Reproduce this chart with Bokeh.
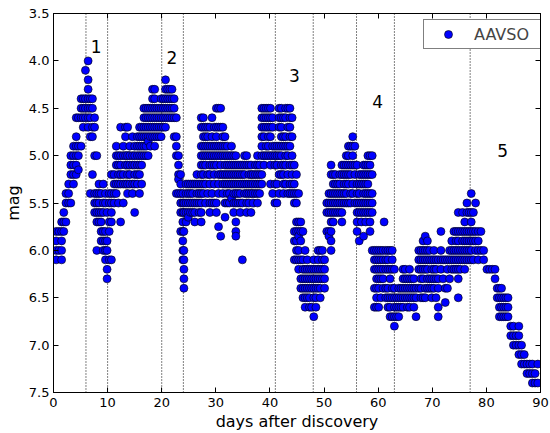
from bokeh.plotting import figure
from bokeh.models import (Range1d, LinearAxis, FixedTicker, PrintfTickFormatter, Span,
                          Legend, LegendItem, ColumnDataSource, CustomJSTickFormatter)
from bokeh.core.properties import value
from bokeh.embed import file_html
from bokeh.resources import INLINE

# ---------------- data ----------------
# Each segment: observation days and, per day, the magnitudes reported
seg1_days = [0.5, 1.0, 1.5, 1.9, 2.3, 2.8, 3.2, 3.7, 4.2, 4.6, 5.1, 5.5, 5.9, 6.4, 6.8,
             7.2, 7.6, 8.0, 8.4, 8.8, 9.2, 9.6, 9.9, 10.3, 10.7]
seg1_mags = [[5.8, 5.9, 6.0, 6.1], [5.8, 6.0], [5.7, 5.8, 5.9, 6.0, 6.1], [5.6, 5.7, 5.8],
             [5.4, 5.5, 5.7], [5.3, 5.4, 5.5], [5.0, 5.1, 5.2, 5.5], [4.9, 5.0, 5.1, 5.2, 5.3],
             [4.6, 4.8, 4.9, 5.0, 5.1, 5.2], [4.6, 4.9, 5.0, 5.15], [4.4, 4.5, 4.6, 4.9],
             [4.4, 4.5, 4.6, 4.7], [4.1, 4.4, 4.5, 4.6], [4.0, 4.2, 4.3, 4.4, 4.5, 4.6, 4.7],
             [4.4, 4.5, 4.6, 4.8, 5.4], [4.4, 4.5, 4.7, 4.8, 5.2], [4.6, 4.7, 5.0, 5.4, 5.5, 5.6],
             [5.0, 5.4, 5.5, 5.6, 5.7, 6.0], [5.3, 5.4, 5.5, 5.6, 5.7], [5.4, 5.6, 5.7, 5.8, 5.9],
             [5.3, 5.5, 5.6, 5.8, 5.9, 6.0], [5.4, 5.5, 5.8, 5.9, 6.0, 6.1],
             [5.6, 5.9, 6.0, 6.2, 6.3], [5.4, 5.5, 5.7, 5.8, 6.1], [5.2, 5.4, 5.5, 5.6, 5.7, 6.1]]

seg2_days = [11.2, 11.6, 12.0, 12.4, 12.9, 13.3, 13.7, 14.1, 14.6, 15.0, 15.5, 15.9, 16.3,
             16.7, 17.1, 17.5, 17.9, 18.3, 18.7, 19.1, 19.5, 19.9, 20.3, 20.7, 21.1, 21.5,
             21.9, 22.3, 22.7, 23.1, 23.5, 23.9, 24.1]
seg2_mags = [[5.2, 5.3, 5.4, 5.5], [4.9, 5.0, 5.1, 5.3, 5.4], [5.0, 5.1, 5.2, 5.3, 5.5],
             [4.7, 5.0, 5.1, 5.2, 5.3, 5.7], [4.9, 5.0, 5.2, 5.3, 5.5], [4.7, 4.8, 5.0, 5.1, 5.3],
             [4.7, 5.0, 5.1, 5.2, 5.3, 5.4], [4.9, 5.0, 5.1, 5.2, 5.3], [4.8, 5.0, 5.1, 5.3, 5.4],
             [4.9, 5.0, 5.1, 5.2, 5.3, 5.6], [4.8, 4.9, 5.0, 5.1, 5.2, 5.3],
             [4.7, 4.8, 4.9, 5.0, 5.1, 5.2, 5.4], [4.7, 4.8, 4.9, 5.0, 5.1, 5.3],
             [4.5, 4.6, 4.7, 4.8, 4.9, 5.0], [4.5, 4.6, 4.7, 4.8, 4.9, 5.0],
             [4.5, 4.6, 4.7, 4.8, 4.85, 5.0], [4.5, 4.6, 4.7, 4.8, 4.9],
             [4.3, 4.4, 4.5, 4.6, 4.7, 4.8], [4.3, 4.4, 4.5, 4.6, 4.7, 4.8, 4.9],
             [4.5, 4.6, 4.7, 4.8], [4.5, 4.6, 4.7, 4.8], [4.4, 4.5, 4.6, 4.7, 4.8],
             [4.4, 4.5, 4.6, 4.7], [4.2, 4.3, 4.4, 4.5, 4.6, 4.7], [4.3, 4.4, 4.5, 4.6],
             [4.3, 4.4, 4.5, 4.6], [4.3, 4.4, 4.5, 4.6], [4.4, 4.5, 4.6, 4.8],
             [4.6, 4.8, 4.9, 5.0, 5.4], [5.0, 5.1, 5.2, 5.25, 5.4], [5.2, 5.3, 5.4, 5.5, 5.6, 5.8],
             [5.4, 5.5, 5.6, 5.7, 5.8, 5.9, 6.0, 6.1], [5.5, 5.6, 5.8, 6.0, 6.1, 6.2, 6.3, 6.4]]

seg3_days = [24.5, 24.9, 25.3, 25.7, 26.1, 26.5, 26.9, 27.3, 27.7, 28.1, 28.5, 28.9, 29.3,
             29.7, 30.1, 30.5, 30.9, 31.3, 31.7, 32.1, 32.5, 32.9, 33.3, 33.7, 34.1, 34.5,
             34.9, 35.3, 35.7, 36.1, 36.5, 36.9, 37.3, 37.7, 38.1, 38.5, 38.9, 39.3, 39.7,
             40.1, 40.5, 40.9]
seg3_mags = [[5.3, 5.4, 5.5, 5.6, 5.7], [5.3, 5.4, 5.5, 5.6, 5.65], [5.3, 5.4, 5.5, 5.6],
             [5.3, 5.4, 5.5, 5.6], [5.3, 5.5, 5.6, 5.7], [5.2, 5.3, 5.4, 5.5], [5.3, 5.4, 5.5, 5.6],
             [4.6, 4.7, 4.9, 5.0, 5.1, 5.2, 5.3, 5.4, 5.5, 5.6, 5.7],
             [4.6, 4.7, 4.8, 4.9, 5.0, 5.1, 5.2, 5.3, 5.4], [4.7, 4.8, 4.9, 5.0, 5.1, 5.3, 5.5],
             [4.7, 4.8, 4.9, 5.0, 5.2, 5.4], [4.7, 4.9, 5.0, 5.1, 5.2, 5.3, 5.5, 5.6],
             [4.6, 4.8, 4.9, 5.0, 5.1, 5.4, 5.5], [4.7, 4.9, 5.0, 5.1, 5.2, 5.3, 5.5],
             [4.5, 4.7, 4.8, 4.9, 5.0, 5.1, 5.5, 5.6], [4.5, 4.7, 4.9, 5.0, 5.2, 5.3, 5.4, 5.75],
             [4.5, 4.7, 4.9, 5.0, 5.1, 5.2, 5.85], [4.7, 4.8, 4.9, 5.0, 5.2, 5.3, 5.4],
             [4.8, 4.9, 5.0, 5.1, 5.2, 5.3, 5.5, 5.65], [4.9, 5.0, 5.1, 5.2, 5.3, 5.4, 5.5],
             [5.0, 5.1, 5.2, 5.3, 5.4, 5.5], [4.9, 5.0, 5.1, 5.2, 5.3, 5.45],
             [5.0, 5.1, 5.2, 5.3, 5.4, 5.5, 5.6], [5.0, 5.1, 5.2, 5.3, 5.4, 5.5, 5.7, 5.8, 5.85],
             [5.1, 5.2, 5.3, 5.4, 5.5], [5.1, 5.2, 5.3, 5.4, 5.5, 5.6], [5.1, 5.2, 5.3, 5.5, 6.1],
             [5.0, 5.1, 5.2, 5.3, 5.4], [5.0, 5.1, 5.3, 5.4, 5.5, 5.6], [5.1, 5.2, 5.3, 5.4, 5.5],
             [5.1, 5.2, 5.3, 5.4, 5.6], [5.2, 5.3, 5.4, 5.5], [5.1, 5.2, 5.3, 5.4],
             [5.0, 5.1, 5.2, 5.3, 5.4, 5.5], [5.1, 5.2, 5.3, 5.4],
             [4.5, 4.6, 4.7, 4.8, 4.9, 5.0, 5.2, 5.3], [4.5, 4.6, 4.7, 4.8, 5.0, 5.1],
             [4.5, 4.6, 4.7, 4.9, 5.0], [4.5, 4.6, 4.7, 4.8, 4.9, 5.0],
             [4.5, 4.6, 4.7, 4.8, 5.0, 5.1, 5.3], [4.6, 4.7, 4.9, 5.0, 5.4], [4.9, 5.0, 5.1, 5.3, 5.5]]

seg4_days = [41.3, 41.7, 42.1, 42.5, 42.9, 43.3, 43.7, 44.1, 44.5, 44.9, 45.3, 45.7, 46.1,
             46.5, 46.9, 47.3, 47.7, 48.1]
seg4_mags = [[4.9, 5.0, 5.1, 5.3, 5.5], [4.5, 4.6, 4.7, 4.9, 5.0, 5.2, 5.4],
             [4.5, 4.6, 4.7, 4.8, 4.9, 5.0, 5.1, 5.2], [4.6, 4.8, 4.9, 5.1, 5.2, 5.3, 5.4],
             [4.5, 4.6, 4.8, 4.9, 5.0, 5.1, 5.3], [4.5, 4.7, 4.9, 5.0, 5.2, 5.4],
             [4.5, 4.6, 4.7, 4.8, 4.9, 5.1, 5.3, 5.4], [4.6, 4.8, 5.0, 5.1, 5.2, 5.3, 5.4],
             [5.1, 5.3, 5.4, 5.5, 5.8, 5.9, 6.1], [5.2, 5.4, 5.5, 5.7, 5.8, 5.9, 6.0, 6.1],
             [5.4, 5.7, 5.8, 5.85, 6.0, 6.1, 6.2], [5.7, 5.8, 5.9, 6.1, 6.3, 6.4],
             [5.8, 6.1, 6.2, 6.3, 6.4, 6.5], [6.0, 6.2, 6.3, 6.4, 6.5, 6.6],
             [6.1, 6.2, 6.3, 6.4, 6.5], [6.2, 6.3, 6.4, 6.5, 6.6], [6.2, 6.3, 6.4, 6.6],
             [6.1, 6.2, 6.3, 6.4, 6.5, 6.7]]

seg5_days = [48.5, 48.9, 49.3, 49.7, 50.1, 50.5, 50.9, 51.3, 51.7, 52.1, 52.5, 52.9, 53.3,
             53.7, 54.1, 54.5, 54.9, 55.3, 55.7]
seg5_mags = [[6.2, 6.3, 6.4, 6.5, 6.6], [6.0, 6.1, 6.2, 6.3, 6.4], [6.0, 6.2, 6.3, 6.4, 6.5],
             [6.0, 6.1, 6.2, 6.3], [6.1, 6.2, 6.3, 6.4], [5.5, 5.6, 5.8],
             [5.4, 5.5, 5.6, 5.8, 5.85], [5.1, 5.2, 5.4, 5.5, 5.6, 5.7, 5.8, 5.9, 6.0],
             [5.2, 5.3, 5.4, 5.5, 5.6, 5.7], [5.2, 5.3, 5.4, 5.5, 5.6], [5.3, 5.4, 5.5, 5.6],
             [5.2, 5.3, 5.4, 5.5, 5.6], [5.1, 5.2, 5.4, 5.5, 5.6, 5.7], [5.1, 5.2, 5.3, 5.4, 5.5],
             [5.0, 5.1, 5.2, 5.3, 5.4, 5.5], [4.9, 5.0, 5.1, 5.2, 5.3, 5.5],
             [4.9, 5.1, 5.2, 5.4, 5.5], [4.8, 4.9, 5.0, 5.1, 5.3, 5.4], [4.9, 5.1, 5.2, 5.5]]

seg6_days = [56.1, 56.5, 56.9, 57.3, 57.7, 58.1, 58.5, 58.9, 59.3, 59.7, 60.1, 60.5, 60.9,
             61.1, 61.4, 61.8, 62.2, 62.6, 63.0]
seg6_mags = [[5.1, 5.3, 5.4, 5.5, 5.6, 5.7, 5.8], [5.2, 5.3, 5.4, 5.5, 5.6, 5.9],
             [5.2, 5.3, 5.5, 5.6, 5.7], [5.1, 5.2, 5.3, 5.4, 5.5, 5.6, 5.85],
             [5.1, 5.2, 5.3, 5.4, 5.5, 5.6, 5.7], [5.0, 5.1, 5.2, 5.3, 5.4, 5.5, 5.6],
             [5.0, 5.1, 5.2, 5.4, 5.5, 5.6, 5.7, 5.8], [5.0, 5.2, 5.4, 5.5, 5.6, 6.0],
             [6.0, 6.1, 6.2, 6.4, 6.6], [6.0, 6.1, 6.2, 6.3, 6.4, 6.5, 6.6],
             [6.0, 6.1, 6.2, 6.3, 6.4, 6.6], [6.0, 6.1, 6.2, 6.3, 6.5], [6.0, 6.1, 6.2, 6.3, 6.4],
             [5.7], [6.0, 6.1, 6.2, 6.4, 6.5], [6.0, 6.1, 6.2, 6.4, 6.5, 6.6],
             [6.0, 6.2, 6.3, 6.5, 6.6, 6.7], [6.0, 6.1, 6.2, 6.4, 6.5, 6.7],
             [6.2, 6.4, 6.5, 6.6, 6.7, 6.8]]

seg7_days = [63.4, 63.8, 64.2, 64.6, 65.0, 65.4, 65.8, 66.2, 66.6, 67.0, 67.5, 67.9, 68.3,
             68.7, 69.1, 69.5, 69.9, 70.3, 70.7, 71.1, 71.6, 72.0, 72.4, 72.8, 73.2, 73.6,
             74.0, 74.4, 74.8, 75.2, 75.6, 76.0, 76.4, 76.8]
seg7_mags = [[6.5, 6.6, 6.7], [6.4, 6.5, 6.6, 6.7], [6.4, 6.5, 6.6], [6.2, 6.3, 6.4, 6.5, 6.6],
             [6.2, 6.3, 6.4, 6.5], [6.3, 6.4, 6.5, 6.6], [6.2, 6.3, 6.4, 6.5, 6.6],
             [6.3, 6.4, 6.5], [6.3, 6.4, 6.5, 6.6], [6.4, 6.5, 6.7], [6.0, 6.1, 6.2, 6.4],
             [6.0, 6.1, 6.2, 6.3, 6.4, 6.5], [5.9, 6.0, 6.1, 6.2, 6.3, 6.5],
             [5.85, 6.0, 6.1, 6.2, 6.4, 6.5], [5.9, 6.0, 6.1, 6.2, 6.3, 6.4],
             [6.0, 6.1, 6.3, 6.4], [6.1, 6.2, 6.3, 6.4, 6.5], [6.0, 6.1, 6.2, 6.3, 6.4],
             [6.1, 6.2, 6.3, 6.5], [6.1, 6.3, 6.4, 6.6, 6.7], [5.8, 6.0, 6.1, 6.2], [6.1, 6.3],
             [6.1, 6.4, 6.55], [6.1, 6.2, 6.4], [6.0, 6.1, 6.3], [5.9, 6.0, 6.1, 6.2],
             [5.8, 6.0, 6.1, 6.2], [5.8, 5.9, 6.0, 6.1, 6.2],
             [5.6, 5.8, 5.9, 6.0, 6.1, 6.2, 6.3, 6.5], [5.8, 6.0, 6.1, 6.2],
             [5.6, 5.8, 5.9, 6.0, 6.1], [5.7, 5.8, 5.9, 6.0, 6.1, 6.2],
             [5.5, 5.6, 5.8, 5.9, 6.0, 6.1], [5.6, 5.8, 5.9, 6.0, 6.1]]

seg8_days = [77.2, 77.6, 78.0, 78.5, 79.0, 79.5, 80.1, 80.6, 81.1, 81.6, 82.0, 82.4, 82.8,
             83.2, 83.6, 84.0, 84.5, 85.0, 85.5, 86.0, 86.5, 87.0, 87.5, 88.0, 88.5, 89.0, 89.5]
seg8_mags = [[5.4, 5.6, 5.7, 5.8, 5.9, 6.0, 6.1], [5.6, 5.8, 5.9, 6.1], [5.5, 5.8, 5.9, 6.0],
             [5.8, 5.9, 6.0, 6.1], [5.8, 6.0], [6.0, 6.1], [6.2], [6.2], [6.2], [6.2, 6.3],
             [6.4, 6.5], [6.4, 6.5, 6.6, 6.7], [6.4, 6.5, 6.6, 6.7], [6.5, 6.6, 6.7],
             [6.5, 6.6, 6.7], [6.5, 6.6, 6.7], [6.8, 6.9], [6.8, 6.9, 7.0], [6.9, 7.0],
             [6.8, 6.9, 7.0, 7.1], [7.0, 7.1, 7.2], [7.1, 7.2], [7.2, 7.3], [7.2, 7.3],
             [7.2, 7.3, 7.4], [7.3, 7.4], [7.2, 7.4]]

# Phase boundaries (dotted lines) and phase labels
boundary_days = [6, 10, 20, 24, 41, 48, 56, 63, 77]
phase_labels = ["1", "2", "3", "4", "5"]
phase_label_days = [7.9, 21.9, 44.5, 59.9, 83.0]
phase_label_mags = [3.85, 3.96, 4.15, 4.43, 4.95]

x_ticks = [0, 10, 20, 30, 40, 50, 60, 70, 80, 90]
y_ticks = [3.5, 4.0, 4.5, 5.0, 5.5, 6.0, 6.5, 7.0, 7.5]

# ---------------- build flat arrays ----------------
all_days, all_mags = [], []
for ds, ms in [(seg1_days, seg1_mags), (seg2_days, seg2_mags), (seg3_days, seg3_mags),
               (seg4_days, seg4_mags), (seg5_days, seg5_mags), (seg6_days, seg6_mags),
               (seg7_days, seg7_mags), (seg8_days, seg8_mags)]:
    for d, col in zip(ds, ms):
        for m in col:
            all_days.append(d)
            all_mags.append(m)

src = ColumnDataSource(dict(day=all_days, mag=all_mags))

FONT = "DejaVu Sans"

p = figure(width=550, height=433, output_backend="svg", toolbar_location=None,
           x_range=Range1d(0, 90), y_range=Range1d(7.5, 3.5),
           min_border_left=53, min_border_right=10, min_border_top=13, min_border_bottom=41)
p.background_fill_color = "white"
p.border_fill_color = "white"
p.outline_line_color = "black"
p.outline_line_width = 1
p.grid.visible = False

for ax in (p.xaxis[0], p.yaxis[0]):
    ax.major_tick_in = 5
    ax.major_tick_out = 0
    ax.minor_tick_line_color = None
    ax.axis_line_color = "black"
    ax.major_tick_line_color = "black"
    ax.major_label_text_font = FONT
    ax.major_label_text_font_size = "13px"
    ax.major_label_text_color = "black"
    ax.axis_label_text_font = FONT
    ax.axis_label_text_font_size = "16px"
    ax.axis_label_text_font_style = "normal"
    ax.axis_label_text_color = "black"

p.xaxis[0].ticker = FixedTicker(ticks=x_ticks)
p.yaxis[0].ticker = FixedTicker(ticks=y_ticks)
p.yaxis[0].formatter = PrintfTickFormatter(format="%.1f")
p.xaxis[0].axis_label = "days after discovery"
p.yaxis[0].axis_label = "mag"
p.xaxis[0].major_label_standoff = 5
p.xaxis[0].axis_label_standoff = 2
p.yaxis[0].major_label_standoff = 4
p.yaxis[0].axis_label_standoff = 3

blank = CustomJSTickFormatter(code="return ''")
top = LinearAxis(ticker=FixedTicker(ticks=x_ticks), major_tick_in=5, major_tick_out=0,
                 minor_tick_line_color=None, formatter=blank,
                 major_label_standoff=0, axis_line_color="black")
right = LinearAxis(ticker=FixedTicker(ticks=y_ticks), major_tick_in=5, major_tick_out=0,
                   minor_tick_line_color=None, formatter=blank,
                   major_label_standoff=0, axis_line_color="black")
p.add_layout(top, "above")
p.add_layout(right, "right")

for b in boundary_days:
    p.add_layout(Span(location=b, dimension="height", line_color="black",
                      line_dash="1 2", line_width=1, level="underlay"))

r = p.scatter(x="day", y="mag", source=src, size=8, fill_color="#0000ff",
              line_color="black", line_width=0.6)

p.text(x=phase_label_days, y=phase_label_mags, text=phase_labels,
       text_font=value(FONT), text_font_size="17px", text_align="center",
       text_baseline="middle", text_color="black")

legend = Legend(items=[LegendItem(label="AAVSO", renderers=[r])], location=(370, 343),
                border_line_color="black", border_line_width=1, padding=4, margin=0,
                glyph_width=40, glyph_height=20, label_standoff=6, label_width=62, spacing=0,
                label_text_font=FONT, label_text_font_size="16px", label_height=20,
                background_fill_color="white", background_fill_alpha=1)
p.add_layout(legend)

open("out.html", "w").write(file_html(p, INLINE))
